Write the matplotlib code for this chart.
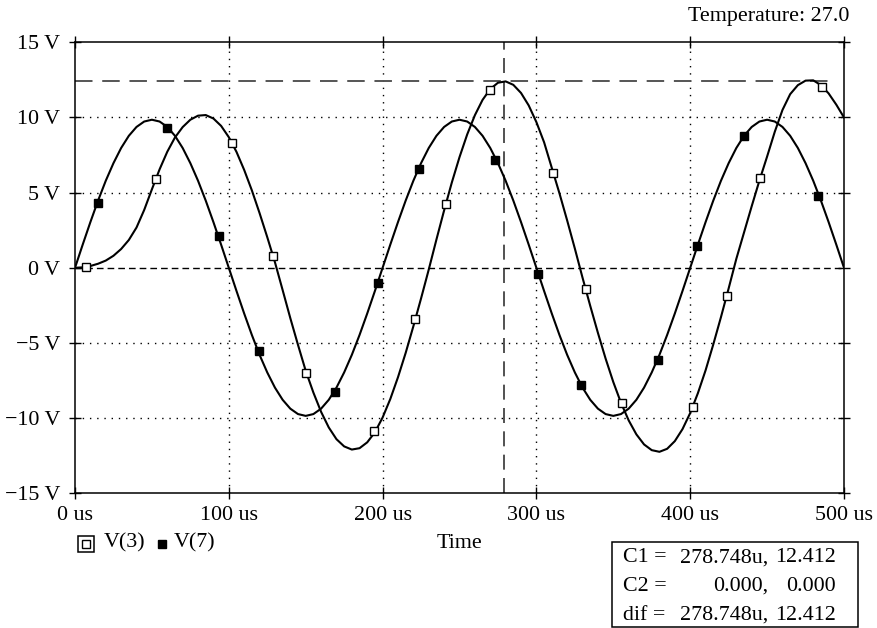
import matplotlib
matplotlib.use("Agg")
import matplotlib.pyplot as plt

plt.rcParams['font.family'] = ['Liberation Serif', 'DejaVu Serif']

# time axis (us), one sample every 5 us
t_us = [i * 5 for i in range(101)]

# V(7): drive node
v7 = [0.0, 1.54, 3.04, 4.47, 5.79, 6.96, 7.97, 8.78, 9.37, 9.73,
      9.85, 9.73, 9.37, 8.78, 7.97, 6.96, 5.79, 4.47, 3.04, 1.54,
      0.0, -1.54, -3.04, -4.47, -5.79, -6.96, -7.97, -8.78, -9.37, -9.73,
      -9.85, -9.73, -9.37, -8.78, -7.97, -6.96, -5.79, -4.47, -3.04, -1.54,
      0.0, 1.54, 3.04, 4.47, 5.79, 6.96, 7.97, 8.78, 9.37, 9.73,
      9.85, 9.73, 9.37, 8.78, 7.97, 6.96, 5.79, 4.47, 3.04, 1.54,
      0.0, -1.54, -3.04, -4.47, -5.79, -6.96, -7.97, -8.78, -9.37, -9.73,
      -9.85, -9.73, -9.37, -8.78, -7.97, -6.96, -5.79, -4.47, -3.04, -1.54,
      0.0, 1.54, 3.04, 4.47, 5.79, 6.96, 7.97, 8.78, 9.37, 9.73,
      9.85, 9.73, 9.37, 8.78, 7.97, 6.96, 5.79, 4.47, 3.04, 1.54,
      0.0]

# V(3): output node
v3 = [0.0, 0.03, 0.12, 0.27, 0.48, 0.80, 1.25, 1.85, 2.68, 3.85,
      5.22, 6.55, 7.72, 8.67, 9.36, 9.85, 10.12, 10.16, 9.93, 9.44,
      8.69, 7.71, 6.51, 5.15, 3.64, 2.04, 0.37, -1.48, -3.35, -5.13,
      -6.85, -8.30, -9.58, -10.62, -11.40, -11.88, -12.09, -12.00, -11.61, -10.94,
      -9.96, -8.73, -7.28, -5.66, -3.89, -2.04, -0.12, 1.88, 3.82, 5.67,
      7.36, 8.87, 10.15, 11.17, 11.89, 12.31, 12.40, 12.17, 11.63, 10.80,
      9.69, 8.35, 6.65, 4.95, 3.15, 1.28, -0.66, -2.53, -4.33, -6.04,
      -7.60, -8.98, -10.15, -11.08, -11.75, -12.13, -12.24, -12.04, -11.53, -10.73,
      -9.66, -8.34, -6.82, -5.10, -3.28, -1.37, 0.60, 2.35, 4.10, 5.80,
      7.40, 9.05, 10.50, 11.55, 12.15, 12.45, 12.47, 12.15, 11.60, 10.85,
      10.00]

# marker positions
v3_mark_t = [7.2, 52.4, 102.3, 128.5, 150.2, 194.2, 220.9, 241.4, 269.8, 311.0,
             332.5, 355.9, 401.6, 423.7, 445.5, 485.5]
v3_mark_v = [0.05, 5.9, 8.29, 0.77, -6.97, -10.88, -3.41, 4.27, 11.81, 6.28,
             -1.42, -9.02, -9.25, -1.88, 5.96, 12.05]
v7_mark_t = [15.2, 59.8, 93.8, 119.4, 168.8, 197.2, 223.7, 273.3, 300.8, 328.8,
             378.8, 404.4, 435.2, 482.9]
v7_mark_v = [4.29, 9.33, 2.10, -5.53, -8.25, -0.98, 6.59, 7.14, -0.38, -7.81,
             -6.10, 1.43, 8.80, 4.78]

# cursor
c1_t = 278.748
c1_v = 12.412

x_ticks = [0, 100, 200, 300, 400, 500]
x_labels = ['0 us', '100 us', '200 us', '300 us', '400 us', '500 us']
y_ticks = [-15, -10, -5, 0, 5, 10, 15]
y_labels = ['\u221215 V', '\u221210 V', '\u22125 V', '0 V', '5 V', '10 V', '15 V']

W, H = 877, 628
fs = 15.8
fig = plt.figure(figsize=(W / 100, H / 100), dpi=100)
ax = fig.add_axes([75 / W, 1 - 493.3 / H, (844 - 75) / W, (493.3 - 42.3) / H])

ax.set_xlim(0, 500)
ax.set_ylim(-15, 15)

# grid: dotted, with dashed zero line
for gx in x_ticks[1:-1]:
    ax.axvline(gx, color='black', lw=1.0, ls=(0, (1, 4.2)), zorder=1)
for gy in y_ticks[1:-1]:
    if gy == 0:
        ax.axhline(gy, color='black', lw=1.0, ls=(0, (4.8, 2.9)), zorder=1)
    else:
        ax.axhline(gy, color='black', lw=1.0, ls=(0, (1, 4.2)), zorder=1)

# cursor lines
ax.axvline(c1_t, color='#333333', lw=1.2, ls=(0, (9, 5)), zorder=1)
ax.hlines(c1_v, 0, 493, color='#555555', lw=1.4, ls=(0, (9, 5)), zorder=1)

ax.plot(t_us, v3, color='black', lw=1.5, zorder=3)
ax.plot(t_us, v7, color='black', lw=1.5, zorder=3)
ax.plot(v3_mark_t, v3_mark_v, ls='none', marker='s', ms=6, mfc='white',
        mec='black', mew=1.0, zorder=4)
ax.plot(v7_mark_t, v7_mark_v, ls='none', marker='s', ms=6, mfc='black',
        mec='black', zorder=4)

ax.set_xticks(x_ticks)
ax.set_xticklabels(x_labels)
ax.set_yticks(y_ticks)
ax.set_yticklabels(y_labels)
ax.tick_params(direction='inout', length=9, width=1.0, top=True, right=True,
               labelsize=fs, colors='black')
ax.tick_params(axis='y', pad=6)
ax.tick_params(axis='x', pad=5)
for s in ax.spines.values():
    s.set_linewidth(1.1)

fig.text(849 / W, 1 - 16 / H, 'Temperature: 27.0', ha='right', va='center', fontsize=fs)
fig.text(459.5 / W, 1 - 543 / H, 'Time', ha='center', va='center', fontsize=fs)

# legend drawn by hand
fig.lines.append(plt.Line2D([86 / W], [1 - 544 / H], marker='s', ms=12, mfc='white',
                            mec='black', mew=1.1, transform=fig.transFigure))
fig.lines.append(plt.Line2D([86 / W], [1 - 544 / H], marker='s', ms=5.5, mfc='white',
                            mec='black', mew=1.0, transform=fig.transFigure))
fig.text(104 / W, 1 - 543 / H, 'V(3)', ha='left', va='center', fontsize=fs)
fig.lines.append(plt.Line2D([162 / W], [1 - 544 / H], marker='s', ms=6, mfc='black',
                            mec='black', transform=fig.transFigure))
fig.text(174 / W, 1 - 543 / H, 'V(7)', ha='left', va='center', fontsize=fs)

# cursor readout box
box = plt.Rectangle((611.7 / W, 1 - 626.7 / H), (858.3 - 611.7) / W, (626.7 - 541.7) / H,
                    transform=fig.transFigure, fill=False, ec='black', lw=1.1)
fig.patches.append(box)
rows = [('C1 =', '278.748u,', '12.412'),
        ('C2 =', '0.000,', '0.000'),
        ('dif =', '278.748u,', '12.412')]
for i, (a, b, c) in enumerate(rows):
    yy = 1 - (558 + i * 28.5) / H
    fig.text(623 / W, yy, a, ha='left', va='center', fontsize=fs)
    fig.text(768 / W, yy, b, ha='right', va='center', fontsize=fs)
    fig.text(836 / W, yy, c, ha='right', va='center', fontsize=fs)

fig.savefig('out.png', dpi=100)
